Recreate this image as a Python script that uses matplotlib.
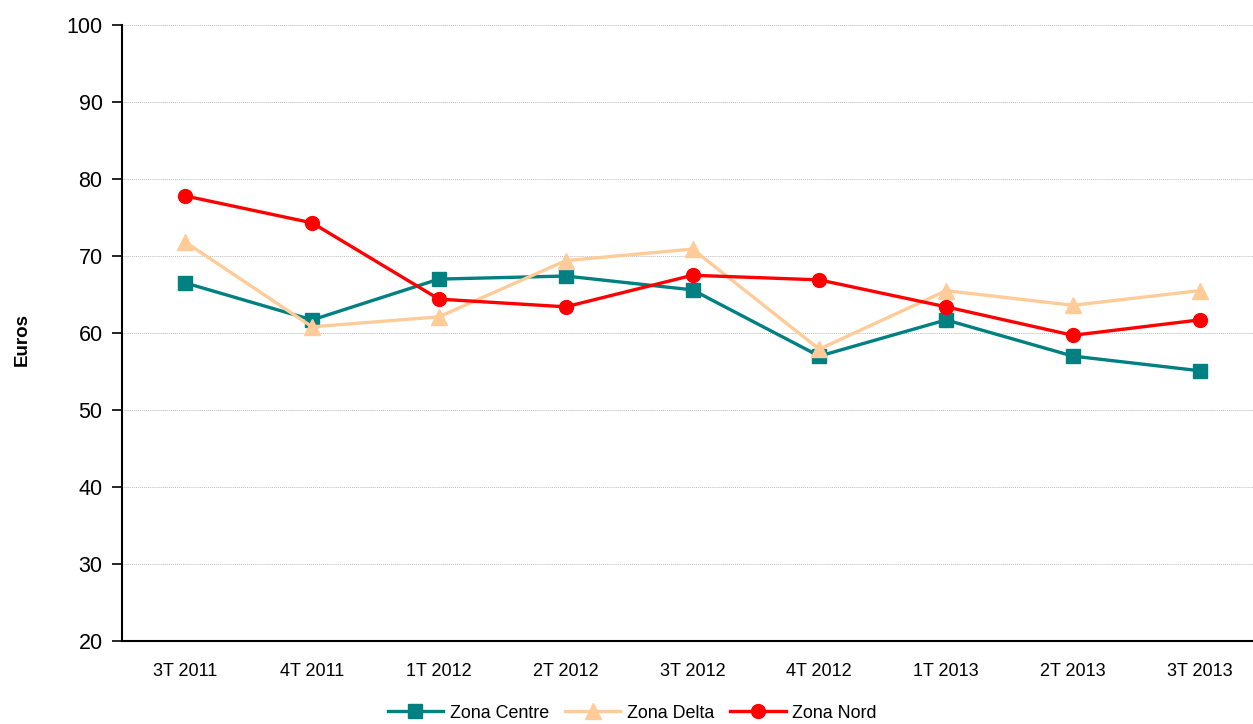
import matplotlib
matplotlib.use("Agg")
import matplotlib.pyplot as plt
from matplotlib import font_manager

categories = ["3T 2011", "4T 2011", "1T 2012", "2T 2012", "3T 2012",
              "4T 2012", "1T 2013", "2T 2013", "3T 2013"]
zona_centre = [66.5, 61.7, 67.0, 67.4, 65.6, 57.0, 61.7, 57.0, 55.1]
zona_delta = [71.8, 60.8, 62.1, 69.4, 70.9, 57.9, 65.5, 63.6, 65.5]
zona_nord = [77.8, 74.3, 64.4, 63.4, 67.5, 66.9, 63.4, 59.7, 61.7]
y_ticks = [20, 30, 40, 50, 60, 70, 80, 90, 100]

plt.rcParams['font.family'] = ['Liberation Sans', 'DejaVu Sans']

W, H = 1253, 724
fig = plt.figure(figsize=(W / 100, H / 100), dpi=100)
left_px, right_px = 122, 122 + 1141
top_px, bottom_px = 25, 641
ax = fig.add_axes([left_px / W, 1 - bottom_px / H,
                   (right_px - left_px) / W, (bottom_px - top_px) / H])

x = list(range(len(categories)))
ax.plot(x, zona_centre, color="#008080", lw=2.4, marker="s", ms=10,
        label="Zona Centre", zorder=3)
ax.plot(x, zona_delta, color="#FFCC99", lw=2.4, marker="^", ms=12,
        label="Zona Delta", zorder=3)
ax.plot(x, zona_nord, color="#FF0000", lw=2.4, marker="o", ms=10,
        label="Zona Nord", zorder=4)

ax.set_xlim(-0.5, len(categories) - 0.5)
ax.set_ylim(20, 100)
ax.set_yticks(y_ticks)
ax.set_yticklabels([str(v) for v in y_ticks], fontsize=15.5)
ax.set_xticks(x)
ax.set_xticklabels(categories, fontsize=13)
ax.tick_params(axis='x', length=0, pad=16)
ax.tick_params(axis='y', length=7, width=1.2, pad=7)

ax.grid(axis='y', color="#bdbdbd", linestyle=(0, (1, 1)), linewidth=0.7)
ax.set_axisbelow(True)
for s in ["top", "right"]:
    ax.spines[s].set_visible(False)
ax.spines["left"].set_linewidth(1.5)
ax.spines["bottom"].set_linewidth(1.5)

try:
    font_manager.findfont("Liberation Sans Narrow", fallback_to_default=False)
    lab_fam = ["Liberation Sans Narrow", "Liberation Sans"]
except Exception:
    lab_fam = ["Liberation Sans"]
fig.text(22 / W, 1 - 340 / H, "Euros", rotation=90, ha="center", va="center",
         fontsize=13.5, fontweight="bold", family=lab_fam)

leg = fig.legend(loc="center", bbox_to_anchor=(632 / W, 1 - 713 / H), ncol=3,
                 frameon=False, fontsize=12.9, handlelength=3.1,
                 columnspacing=0.9, handletextpad=0.35)

fig.savefig("out.png", dpi=100)
